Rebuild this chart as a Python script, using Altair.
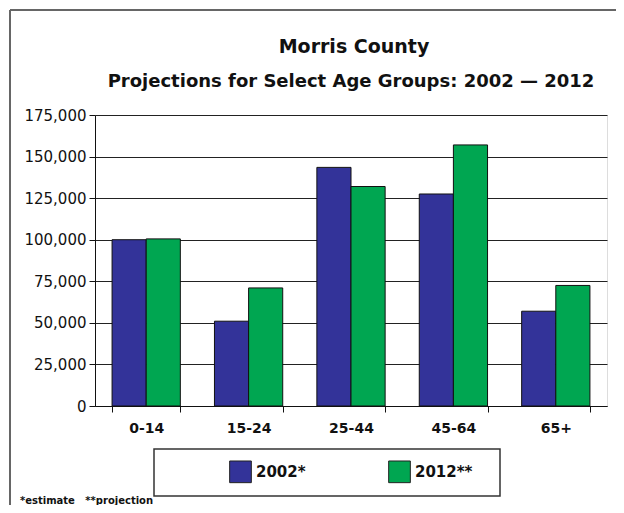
import altair as alt
import pandas as pd

categories = ["0-14", "15-24", "25-44", "45-64", "65+"]
series = ["2002*", "2012**"]
values_2002 = [100000, 51000, 143500, 127500, 57000]
values_2012 = [100500, 71000, 132000, 157000, 72500]
colors = ["#333399", "#00A651"]
title_lines = ["Morris County", "Projections for Select Age Groups: 2002 — 2012"]
footnote_text = "*estimate\u00a0\u00a0\u00a0**projection"

rows = []
for i, c in enumerate(categories):
    rows.append({"group": c, "year": series[0], "pop": values_2002[i]})
    rows.append({"group": c, "year": series[1], "pop": values_2012[i]})
df = pd.DataFrame(rows)

FONT = "DejaVu Sans"

bars = alt.Chart(df).mark_bar(stroke="#111111", strokeWidth=1).encode(
    x=alt.X("group:N", sort=categories, title=None,
            scale=alt.Scale(paddingInner=1/3, paddingOuter=1/6),
            axis=alt.Axis(labelAngle=0, tickBand="extent", tickSize=6,
                          labelFont=FONT, labelFontWeight="bold", labelFontSize=14,
                          labelColor="#111111", labelPadding=9,
                          domainColor="#111111", tickColor="#111111", grid=False)),
    xOffset=alt.XOffset("year:N", sort=series),
    y=alt.Y("pop:Q", title=None,
            scale=alt.Scale(domain=[0, 175000], nice=False),
            axis=alt.Axis(values=list(range(0, 175001, 25000)), format=",d",
                          tickSize=6, labelFont=FONT, labelFontSize=15,
                          labelColor="#111111", labelPadding=3,
                          domainColor="#111111", tickColor="#111111",
                          gridColor="#222222", gridOpacity=1, gridWidth=1.2)),
    color=alt.Color("year:N", sort=series,
                    scale=alt.Scale(domain=series, range=colors),
                    legend=alt.Legend(title=None, orient="none", direction="horizontal",
                                      legendX=134, legendY=345, padding=0,
                                      symbolType="square", symbolSize=470,
                                      symbolStrokeColor="#222222", symbolStrokeWidth=1,
                                      symbolOpacity=1,
                                      labelFont=FONT, labelFontWeight="bold",
                                      labelFontSize=15, labelColor="#111111",
                                      labelOffset=4, columnPadding=80)),
)

decor = alt.Data(values=[{"a": 1}])

frame_left = alt.Chart(decor).mark_rule(color="#666666", strokeWidth=2).encode(
    x=alt.value(-85), y=alt.value(-105), y2=alt.value(400))
frame_top = alt.Chart(decor).mark_rule(color="#666666", strokeWidth=2).encode(
    x=alt.value(-85), x2=alt.value(540), y=alt.value(-105))
legend_box = alt.Chart(decor).mark_rect(fill="white", fillOpacity=0, stroke="#333333",
                                       strokeWidth=1.5).encode(
    x=alt.value(59), x2=alt.value(405), y=alt.value(334), y2=alt.value(381))
footnote = alt.Chart(decor).mark_text(align="left", baseline="alphabetic", font=FONT,
                                      fontSize=10, fontWeight="bold", color="#111111").encode(
    x=alt.value(-75), y=alt.value(389), text=alt.value(footnote_text))
title1 = alt.Chart(decor).mark_text(align="center", baseline="middle", font=FONT,
                                    fontSize=19, fontWeight="bold", color="#111111").encode(
    x=alt.value(259), y=alt.value(-68), text=alt.value(title_lines[0]))
title2 = alt.Chart(decor).mark_text(align="center", baseline="middle", font=FONT,
                                    fontSize=18, fontWeight="bold", color="#111111").encode(
    x=alt.value(256), y=alt.value(-33), text=alt.value(title_lines[1]))

chart = alt.layer(frame_left, frame_top, legend_box, bars, footnote, title1, title2).properties(
    width=512, height=291,
    autosize=alt.AutoSizeParams(type="none"),
    padding={"left": 87, "top": 107, "right": 9, "bottom": 99},
).configure_view(stroke="#111111", strokeWidth=1.2).configure(background="white")

chart.save("out.html", embed_options={"renderer": "svg", "actions": False})
